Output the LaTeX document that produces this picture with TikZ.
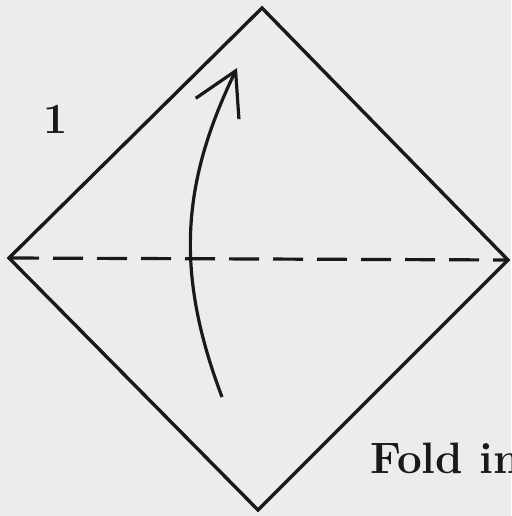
\documentclass[tikz,border=0pt]{standalone}
\usepackage{fontspec}
\setmainfont{Latin Modern Roman}
\usetikzlibrary{arrows.meta}
\definecolor{paper}{RGB}{236,236,236}
\definecolor{ink}{RGB}{25,25,25}
\begin{document}
\begin{tikzpicture}[x=1pt,y=-1pt,
  edge/.style={draw=ink,line width=3.4pt,line join=miter},
  foldline/.style={draw=ink,line width=3.2pt,dash pattern=on 30pt off 14pt},
  movearrow/.style={draw=ink,line width=3.2pt,-{Straight Barb[length=42pt,width=48pt,line width=3.2pt]}},
  label/.style={inner sep=0pt,anchor=base west,text=ink}]
\useasboundingbox (0,0) rectangle (511,516);
\clip (0,0) rectangle (511,516);
\fill[paper] (0,0) rectangle (511,516);
\coordinate (T) at (262,8);
\coordinate (L) at (9,258);
\coordinate (R) at (508,260);
\coordinate (B) at (258,510);
\draw[edge] (T) -- (R) -- (B) -- (L) -- cycle;
\draw[foldline] (L) -- (R);
\coordinate (tail) at (222,397);
\coordinate (tip) at (237,68);
\draw[movearrow] (tail) .. controls (176,275) and (180,186) .. (tip);
\node[label,font=\fontsize{43}{43}\selectfont\bfseries] (num) at (43,133) {1};
\node[label,font=\fontsize{44}{44}\selectfont\bfseries] (cap) at (370,473) {Fold in};
\end{tikzpicture}
\end{document}
